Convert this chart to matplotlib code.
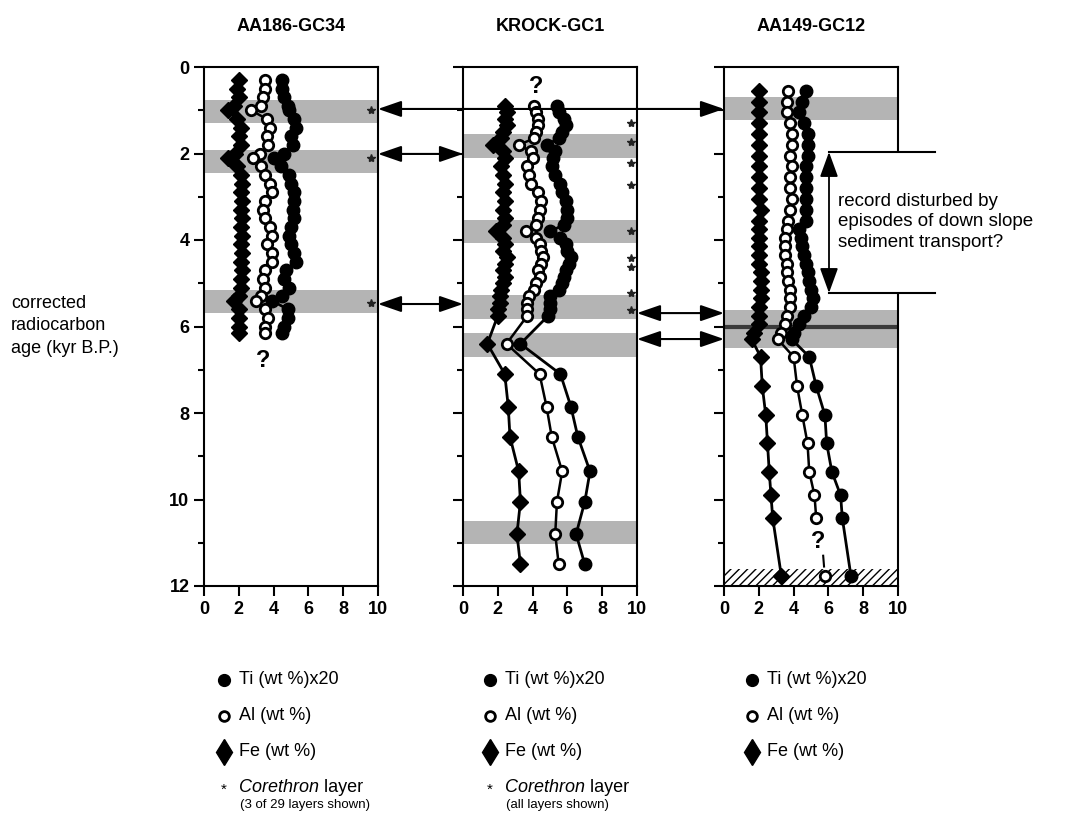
import matplotlib
matplotlib.use('Agg')
import matplotlib.pyplot as plt
from matplotlib.patches import ConnectionPatch, Rectangle
from matplotlib.lines import Line2D

plt.rcParams['font.family'] = ['Liberation Sans', 'DejaVu Sans']

# ---- data ----
titles = ["AA186-GC34", "KROCK-GC1", "AA149-GC12"]

ages1 = [0.3, 0.5, 0.7, 0.9, 1.0, 1.2, 1.4, 1.6, 1.8, 2.0, 2.1, 2.3, 2.5, 2.7, 2.9, 3.1,
         3.3, 3.5, 3.7, 3.9, 4.1, 4.3, 4.5, 4.7, 4.9, 5.1, 5.3, 5.4, 5.6, 5.8, 6.0, 6.15]
fe1 = [2.0, 1.9, 2.0, 1.7, 1.4, 1.9, 2.1, 2.0, 2.1, 1.8, 1.4, 1.9, 2.1, 2.2, 2.1, 2.2,
       2.1, 2.2, 2.1, 2.2, 2.1, 2.2, 2.1, 2.2, 2.1, 2.1, 2.0, 1.7, 2.0, 2.0, 2.0, 2.0]
al1 = [3.5, 3.5, 3.4, 3.3, 2.7, 3.6, 3.8, 3.6, 3.7, 3.2, 2.8, 3.3, 3.5, 3.8, 3.9, 3.5,
       3.4, 3.5, 3.8, 3.9, 3.6, 3.9, 3.9, 3.5, 3.4, 3.5, 3.3, 3.0, 3.5, 3.7, 3.5, 3.5]
ti1 = [4.5, 4.5, 4.6, 4.8, 4.9, 5.2, 5.3, 5.0, 5.1, 4.6, 4.0, 4.4, 4.9, 5.0, 5.2, 5.2,
       5.1, 5.2, 5.0, 4.9, 5.0, 5.2, 5.3, 4.7, 4.6, 4.9, 4.5, 3.9, 4.8, 4.8, 4.6, 4.5]

ages2 = [0.9, 1.05, 1.2, 1.35, 1.5, 1.65, 1.8, 1.95, 2.1, 2.3, 2.5, 2.7, 2.9, 3.1, 3.3,
         3.5, 3.65, 3.8, 3.95, 4.1, 4.25, 4.4, 4.55, 4.7, 4.85, 5.0, 5.15, 5.3, 5.45,
         5.6, 5.75, 6.4, 7.1, 7.85, 8.55, 9.35, 10.05, 10.8, 11.5]
fe2 = [2.4, 2.5, 2.4, 2.5, 2.3, 2.2, 1.7, 2.3, 2.4, 2.2, 2.3, 2.4, 2.3, 2.4, 2.3,
       2.4, 2.3, 1.9, 2.3, 2.4, 2.3, 2.5, 2.4, 2.3, 2.4, 2.3, 2.2, 2.1, 2.1,
       2.0, 2.0, 1.4, 2.4, 2.6, 2.7, 3.2, 3.3, 3.1, 3.3]
al2 = [4.1, 4.2, 4.3, 4.3, 4.2, 4.1, 3.2, 3.9, 4.0, 3.7, 3.8, 3.9, 4.3, 4.5, 4.4,
       4.3, 4.2, 3.6, 4.2, 4.4, 4.5, 4.6, 4.5, 4.3, 4.4, 4.2, 4.1, 3.8, 3.7,
       3.7, 3.7, 2.5, 4.4, 4.8, 5.1, 5.7, 5.4, 5.3, 5.5]
ti2 = [5.4, 5.5, 5.8, 5.9, 5.7, 5.5, 4.8, 5.3, 5.2, 5.1, 5.3, 5.6, 5.7, 5.9, 6.0,
       6.0, 5.8, 5.0, 5.6, 5.9, 6.0, 6.2, 6.1, 5.9, 5.8, 5.7, 5.5, 5.0, 5.0,
       5.0, 4.9, 3.3, 5.6, 6.2, 6.6, 7.3, 7.0, 6.5, 7.0]

ages3 = [0.55, 0.8, 1.05, 1.3, 1.55, 1.8, 2.05, 2.3, 2.55, 2.8, 3.05, 3.3, 3.55, 3.75,
         3.95, 4.15, 4.35, 4.55, 4.75, 4.95, 5.15, 5.35, 5.55, 5.75, 5.95, 6.15, 6.3,
         6.7, 7.38, 8.05, 8.7, 9.36, 9.9, 10.43, 11.78]
fe3 = [2.0, 2.0, 2.0, 2.0, 2.0, 2.0, 2.0, 2.0, 2.0, 2.0, 2.0, 2.1, 2.0, 2.0,
       2.0, 2.0, 2.0, 2.0, 2.1, 2.1, 2.1, 2.1, 2.0, 2.0, 2.0, 1.7, 1.6,
       2.1, 2.2, 2.4, 2.5, 2.6, 2.7, 2.8, 3.3]
al3 = [3.7, 3.6, 3.6, 3.8, 3.9, 3.9, 3.8, 3.9, 3.8, 3.8, 3.9, 3.8, 3.7, 3.6,
       3.5, 3.5, 3.5, 3.6, 3.6, 3.7, 3.8, 3.8, 3.8, 3.6, 3.5, 3.3, 3.1,
       4.0, 4.2, 4.5, 4.8, 4.9, 5.2, 5.3, 5.8]
ti3 = [4.7, 4.5, 4.3, 4.6, 4.8, 4.8, 4.8, 4.7, 4.7, 4.7, 4.7, 4.7, 4.7, 4.3,
       4.4, 4.5, 4.6, 4.7, 4.8, 4.9, 5.0, 5.1, 5.0, 4.6, 4.3, 4.0, 3.9,
       4.9, 5.3, 5.8, 5.9, 6.2, 6.7, 6.8, 7.3]

bands1 = [(0.76, 1.29), (1.92, 2.45), (5.16, 5.69)]
bands2 = [(1.55, 2.1), (3.54, 4.07), (5.27, 5.82), (6.15, 6.7), (10.5, 11.03)]
bands3 = [(0.69, 1.23), (5.62, 6.5)]
stars1 = [1.0, 2.1, 5.45]
stars2 = [1.29, 1.73, 2.22, 2.73, 3.79, 4.42, 4.62, 5.23, 5.62]
# tie lines between cores (age, from panel, to panel)
ties = [(0.97, 0, 2), (2.01, 0, 1), (5.48, 0, 1), (5.69, 1, 2), (6.29, 1, 2)]
note = "record disturbed by\nepisodes of down slope\nsediment transport?"
legend_labels = ["Ti (wt %)x20", "Al (wt %)", "Fe (wt %)"]
subnotes = ["(3 of 29 layers shown)", "(all layers shown)", None]

W, H = 1066, 814
fig = plt.figure(figsize=(W / 100, H / 100), dpi=100)


def fx(px):
    return px / W


def fy(py):
    return 1 - py / H


lefts = [204, 463, 724]
pw = 174
top, bot = 67, 586
band_col = '#b4b4b4'

axes = []
for i, lx in enumerate(lefts):
    ax = fig.add_axes([fx(lx), fy(bot), pw / W, (bot - top) / H])
    ax.set_xlim(0, 10)
    ax.set_ylim(12, 0)
    ax.set_xticks([0, 2, 4, 6, 8, 10])
    ax.set_yticks([0, 2, 4, 6, 8, 10, 12])
    ax.set_yticks(range(13), minor=True)
    ax.tick_params(axis='both', direction='out', width=1.5, length=7, labelsize=13)
    ax.tick_params(axis='y', which='minor', direction='out', width=1.5, length=4)
    for lab in ax.get_xticklabels() + ax.get_yticklabels():
        lab.set_fontweight('bold')
    if i > 0:
        ax.set_yticklabels([])
    for s in ax.spines.values():
        s.set_linewidth(1.5)
    ax.set_title(titles[i], fontsize=13, fontweight='bold', pad=26)
    axes.append(ax)

ax1, ax2, ax3 = axes

for ax, bands in zip(axes, [bands1, bands2, bands3]):
    for b0, b1 in bands:
        ax.axhspan(b0, b1, color=band_col, lw=0, zorder=0)

# hatched base and dark line in AA149-GC12
ax3.add_patch(Rectangle((0, 11.6), 10, 0.4, facecolor='white', edgecolor='black',
                        hatch='////', lw=0, zorder=0.5))
ax3.axhline(6.02, color='#3a3a3a', lw=3, zorder=1)


def draw_core(ax, ages, fe, al, ti, n_al=None):
    ax.plot(fe, ages, color='black', lw=2, marker='D', ms=8.5, mfc='black', mec='black', zorder=3)
    if n_al is None:
        n_al = len(al)
    ax.plot(al[:n_al], ages[:n_al], color='black', lw=1.8, marker='o', ms=7.5,
            mfc='white', mec='black', mew=2, zorder=4)
    ax.plot(ti, ages, color='black', lw=2, marker='o', ms=9, mfc='black', mec='black', zorder=3)


draw_core(ax1, ages1, fe1, al1, ti1)
draw_core(ax2, ages2, fe2, al2, ti2)
draw_core(ax3, ages3, fe3, al3, ti3, n_al=len(al3) - 1)
# last Al point in AA149-GC12 drawn on its own
ax3.plot([al3[-1]], [ages3[-1]], marker='o', ms=7.5, mfc='white', mec='black', mew=2, zorder=4)
ax3.plot([al3[-1] - 0.1, al3[-1] - 0.05], [11.3, 11.55], color='black', lw=1.5, zorder=4)

qstyle = dict(fontsize=17, fontweight='bold', ha='center', va='center', zorder=5)
ax1.text(3.4, 6.78, '?', **qstyle)
ax2.text(4.2, 0.46, '?', **qstyle)
ax3.text(5.4, 10.97, '?', **qstyle)

# Corethron layers
ax1.plot([9.6] * len(stars1), stars1, ls='none', marker='*', ms=6, color='#222222', zorder=5)
ax2.plot([9.65] * len(stars2), stars2, ls='none', marker='*', ms=6, color='#222222', zorder=5)

# annotation box on the third core
box_l, box_t, box_b, box_r = 829, 152, 293, 935
fig.patches.append(Rectangle((fx(box_l), fy(box_b)), (box_r - box_l) / W, (box_b - box_t) / H,
                             transform=fig.transFigure, facecolor='white', edgecolor='none',
                             zorder=6))
for yy in (box_t, box_b):
    fig.add_artist(Line2D([fx(box_l), fx(box_r)], [fy(yy), fy(yy)], color='black', lw=1.5,
                          transform=fig.transFigure, zorder=7))
fig.add_artist(ConnectionPatch((fx(box_l), fy(box_t)), (fx(box_l), fy(box_b)),
                               coordsA=fig.transFigure, coordsB=fig.transFigure,
                               arrowstyle='<|-|>,head_length=1.1,head_width=0.4',
                               mutation_scale=14, color='black', lw=1.3,
                               shrinkA=0, shrinkB=0, zorder=7))
fig.text(fx(838), fy(222), note, fontsize=13.5, ha='left', va='center', linespacing=1.3,
         zorder=8)

# tie arrows
for age, a, b in ties:
    con = ConnectionPatch((10, age), (0, age), coordsA=axes[a].transData,
                          coordsB=axes[b].transData,
                          arrowstyle='<|-|>,head_length=1.3,head_width=0.45',
                          mutation_scale=11, color='black', lw=1.5, shrinkA=0, shrinkB=0,
                          zorder=5)
    fig.add_artist(con)

fig.text(fx(11), fy(326), "corrected\nradiocarbon\nage (kyr B.P.)", fontsize=13,
         ha='left', va='center', linespacing=1.45)

# legends under each core
leg_x = [224, 490, 752]
leg_y = [680, 716, 752]
leg_marks = [dict(marker='o', ms=8.5, color='black'),
             dict(marker='o', ms=7, mfc='white', mec='black', mew=2, color='black'),
             dict(marker='d', ms=13, color='black')]
for i, mx in enumerate(leg_x):
    tx = mx + 15
    for lab, ly, mk in zip(legend_labels, leg_y, leg_marks):
        fig.add_artist(Line2D([fx(mx)], [fy(ly)], transform=fig.transFigure, **mk))
        fig.text(fx(tx), fy(ly), lab, fontsize=13, va='center')
    if subnotes[i] is not None:
        fig.text(fx(mx), fy(790), "*", fontsize=11, ha='center', va='center')
        t = fig.text(fx(tx), fy(788), "Corethron", fontsize=13, style='italic', va='center')
        fig.canvas.draw()
        bb = t.get_window_extent()
        fig.text(bb.x1 / W, fy(788), " layer", fontsize=13, va='center')
        fig.text(fx(tx + 1), fy(805), subnotes[i], fontsize=9.5, va='center')

fig.savefig('out.png', dpi=100)
